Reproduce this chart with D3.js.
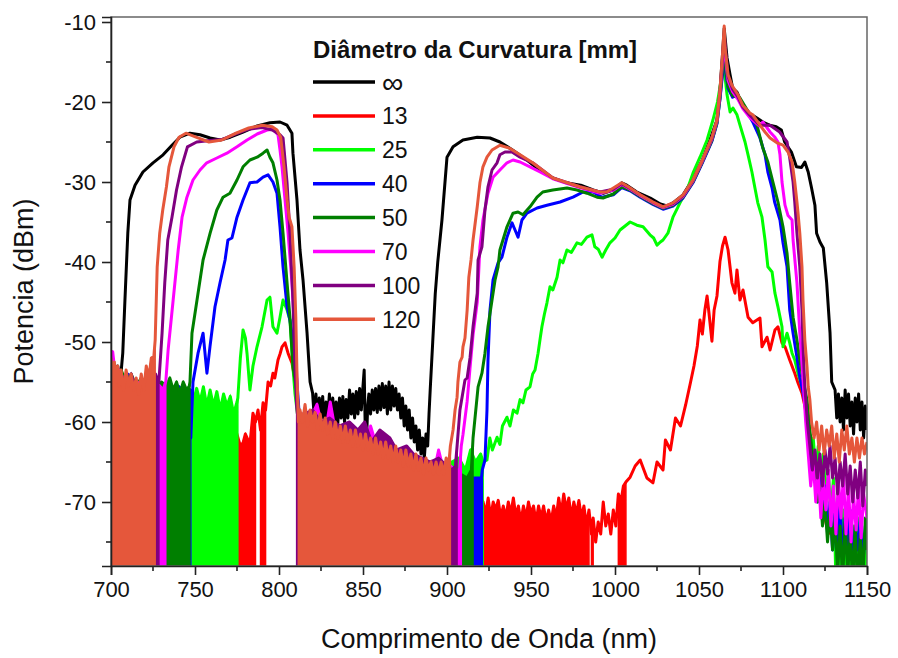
<!DOCTYPE html>
<html><head><meta charset="utf-8">
<script src="https://cdn.jsdelivr.net/npm/d3@7"></script>
<style>body{margin:0;background:#fff}</style>
</head><body>
<svg id="c" width="898" height="658"></svg>
<script>
// ---------- data ----------
const xTickValues = [700,750,800,850,900,950,1000,1050,1100,1150];
const yTickValues = [-10,-20,-30,-40,-50,-60,-70];
const xTitle = "Comprimento de Onda (nm)";
const yTitle = "Potencia (dBm)";
const legendTitle = "Diâmetro da Curvatura [mm]";
const seriesNames = ["∞","13","25","40","50","70","100","120"];
const seriesColors = ["#000000","#ff0000","#00ff00","#0000ff","#007f00","#ff00ff","#800080","#e5573b"];

// [wavelength nm, power dBm]
const sInf = [[700,-54],[702,-55.5],[704,-53],[705.5,-55],[707,-51.4],[708.3,-44.75],[710,-36.4],[711.3,-32.25],[714.3,-30.4],[719,-28.75],[725,-27.6],[731,-26.6],[736.3,-25.4],[741,-24.4],[747,-23.9],[753,-24.1],[759,-24.5],[765,-24.75],[771,-24.4],[778.6,-23.75],[787,-23],[794.6,-22.6],[800.6,-22.5],[804.8,-22.9],[807.7,-23.9],[808.3,-26.4],[810.7,-32.25],[812.5,-38.5],[814.3,-42.25],[816.7,-48.9],[818.5,-55],
[820,-56.4],[821,-59.5],[822,-56.5],[823,-60],[824,-57],[825,-59.5],[826,-56.8],[827,-60.5],[828,-57.5],[829,-59.5],[830,-56.5],[831,-60],[832,-57],[833,-59.8],[834,-57.5],[835,-60.2],[836,-57],[837,-59.5],[838,-56.8],[839,-60],[840,-57.2],[841,-59.5],[842,-56],[843,-59],[844,-56.5],[845,-59.5],[846,-56.2],[847,-59],[848,-55.8],[849,-58.5],[850,-55.5],[850.7,-53.5],[851.3,-60.5],[852,-63],[852.8,-58],[853.5,-56.5],[854.5,-59],[855.5,-56],[856.5,-58.5],[857.5,-55.8],[858.5,-58.8],[859.5,-55.5],[860.5,-58.5],[861.5,-55.2],[862.5,-58.2],[863.5,-55.5],[864.5,-59],[865.5,-55],[866.5,-58.5],[867.5,-55.5],[868.5,-58],[869.5,-55.8],[870.5,-58.5],[871.5,-56.5],[872.5,-59.5],[873.5,-57],[874.5,-60.5],[875.5,-58],[876.5,-61],[877.5,-58.5],[878.5,-62],[879.5,-59.5],[880.5,-62.5],[881.5,-60.5],[882.5,-63.5],[883.5,-61],[884.5,-64],[885.5,-62],[886.5,-64.5],[887.5,-61.5],[888.5,-63],[889.3,-59],
[890,-56],[891.5,-50],[893,-44],[894.5,-40],[897,-34.75],[900,-26.9],[903.6,-25.6],[909.5,-24.75],[918,-24.4],[925.6,-24.5],[931.5,-25],[939,-26],[947.6,-27.25],[955,-28.5],[963,-29.5],[971,-30.1],[979.6,-30.4],[987,-31],[993,-31.4],[999,-31],[1004,-30.1],[1007,-30.4],[1013,-31.25],[1021,-32],[1027,-32.75],[1031,-33],[1034.5,-32.6],[1040.5,-31.6],[1046,-29.75],[1052,-27.25],[1056.5,-24.75],[1060.7,-22.25],[1062.5,-18.5],[1064,-14],[1065,-10.8],[1066.7,-14.5],[1068.5,-16.6],[1070,-18.25],[1072.6,-18.75],[1076,-20.4],[1080,-21.4],[1084.5,-22],[1088,-22.5],[1092,-22.9],[1096,-23.1],[1099,-23.5],[1101,-25],[1105,-26.25],[1108,-28.1],[1111,-28.2],[1113,-27.5],[1115,-28.75],[1117,-30.75],[1119,-32.9],[1120,-36.4],[1122,-37.5],[1124,-38.25],[1126,-42.6],[1128,-48.9],[1129,-55],
[1131,-56],[1132,-59.5],[1133,-56.5],[1134,-60],[1135,-57],[1136,-61],[1137,-56],[1138,-59.5],[1139,-56.5],[1140,-60.5],[1141,-57.5],[1142,-61.5],[1143,-57],[1144,-60],[1145,-56.5],[1146,-61],[1147,-57.5],[1148,-62],[1149,-58],[1150,-61]];

const s13 = [[700,-54],[710,-55],[720,-56],[730,-56],[740,-57],[750,-57],[760,-58],[770,-58],[775.6,-62],[777,-63],[778.6,-62.6],[780,-61.5],[782.7,-62.8],[784.5,-58.9],[786,-60],[787.5,-58.5],[789,-61],[790.5,-57.6],[792,-58.5],[793.5,-55],[795,-55.5],[796.4,-53.9],[797.5,-54.5],[799.4,-52.25],[800.6,-51.5],[801.8,-50.6],[803.6,-50.1],[805.4,-51.4],[806.5,-52],[807.7,-52.6],[809.5,-54.75],[811.3,-58.9],[812,-63],
[812.5,-60],[820,-61],[830,-62],[840,-63],[850,-63.5],[860,-64.5],[870,-65],[880,-66],[890,-66.5],[900,-67],[910,-68],[918,-69],
[921.5,-70],[923,-71.5],[924.5,-69.5],[926,-72],[927.5,-70],[929,-71],[930.5,-69.8],[932,-72],[933.5,-70.5],[935,-72],[936.5,-70],[938,-71.5],[939.5,-69.5],[941,-71.8],[942.5,-70.5],[944,-72.5],[945.5,-70.5],[947,-72],[948.5,-70],[950,-71.5],[951.5,-70.5],[953,-72.5],[954.5,-70.5],[956,-72],[957.5,-70.5],[959,-72.5],[960.5,-71],[962,-72.5],[963.5,-70.5],[965,-72],[966.5,-69.5],[968,-71.5],[969.5,-69],[971,-71],[972.5,-69.5],[974,-72],[975.5,-70],[977,-71.5],[978.5,-69.8],[980,-72],[981.5,-70.5],[983,-73],[984.5,-71],[986,-74],[987,-72],[988.5,-75],[990,-72.5],[991.5,-74],[993,-70],[994.5,-73],[996,-71.5],[997.5,-74],[999,-71],[1000.5,-73],[1002,-69],[1003.5,-70],[1005,-68],[1006.5,-67.5],
[1009,-66.9],[1012,-65.5],[1015,-64.75],[1019,-67],[1022.6,-67.6],[1025,-65],[1028.6,-66],[1030,-62.25],[1033,-63.5],[1036,-59.5],[1039,-60.5],[1042,-57.9],[1045,-55],[1047,-53],[1049,-50.5],[1050.6,-47.25],[1052,-49],[1053.5,-46],[1054.8,-44.25],[1056,-46.5],[1057.7,-49.9],[1059,-46],[1060.7,-44.25],[1062.5,-39.9],[1064,-38],[1065.5,-36.9],[1067.3,-38.5],[1069.6,-42.6],[1071.4,-43.9],[1072.6,-41],[1074.4,-44.75],[1076.2,-43.5],[1079.2,-46.9],[1082,-47.6],[1086.3,-47],[1087.5,-50.6],[1090.5,-49.4],[1092.3,-51],[1095.2,-48.5],[1097,-48.1],[1099.4,-50.1],[1101.2,-50.6],[1104,-52.25],[1107,-53.9],[1108.9,-55.1],[1111.3,-56.4],[1113,-58],[1115,-60.5],[1117,-63],[1119,-65.5],[1121,-68],[1123,-70],[1125,-72],[1127,-74],[1129,-73],[1131,-76],[1133,-75],[1135,-77],[1137,-76],[1139,-80],[1140.5,-76],[1142,-81],[1143.5,-77],[1145,-80],[1146.5,-77],[1148,-81],[1149,-78],[1150,-80]];

const s25 = [[700,-54],[705,-55.5],[710,-55],[715,-56],[720,-55.5],[725,-56.5],[730,-56],[735,-57],[740,-56],[745,-57],[747,-56],[749,-57.5],[751,-55.8],[753,-57.5],[755,-55.6],[757,-58],[759,-56],[761,-58],[763,-56.2],[765,-58.5],[767,-56.5],[769,-58],[771,-56.8],[773,-59],[775,-57.5],
[775.5,-57],[777,-52],[778.6,-48.5],[780,-49.5],[781,-51.5],[782.7,-56],[784.5,-53],[786.9,-50.6],[789.9,-48.1],[792.9,-44.75],[794.6,-44.4],[796.4,-48.1],[798.8,-48.9],[800.6,-46.9],[802.4,-44.75],[804.8,-46],[806.5,-47.25],[808.3,-53.1],[809.5,-56.4],[811,-59],
[813,-59.5],[820,-60],[827,-61],[834,-61.5],[841,-62],[848,-62.5],[855,-63],[862,-63.5],[869,-64],[876,-65],[883,-65],[890,-65.5],[897,-65.5],[903,-65],[907,-64.5],[911,-66],[914,-63.5],[917,-65],[920,-64],
[921.5,-65],[923.8,-64.75],[925.5,-62],[927,-63.5],[929.8,-61.9],[931.5,-62.8],[933,-60.5],[935.7,-59.4],[937.5,-60.5],[939.5,-58.5],[941.7,-58.9],[943.5,-57.2],[945.2,-57.6],[947,-56],[949.4,-55.6],[951,-54],[952.4,-53.5],[954.2,-51.4],[955.5,-49.5],[956.5,-48.1],[958,-46.5],[959.5,-45.1],[961.3,-43.1],[963,-43.5],[965.5,-41.9],[967.3,-39.75],[969,-40.1],[971.4,-38.5],[974,-38.8],[977.4,-37.6],[980,-37.8],[983.3,-36.9],[986.3,-36.6],[988,-38.1],[990,-38.4],[992.3,-39.4],[994.5,-38.5],[997,-37.6],[1000,-37],[1003,-36],[1006,-35.5],[1009,-35],[1013,-35.4],[1016.7,-35.6],[1020.8,-36.6],[1023,-37],[1025,-37.9],[1027,-37.5],[1028.6,-37.25],[1031.5,-36.4],[1034.5,-34.4],[1038.7,-32.6],[1042.9,-31],[1046.4,-28.9],[1050.6,-26.9],[1054.8,-24.75],[1058.3,-22.25],[1061,-20],[1063,-17.5],[1064.3,-15.4],[1065.3,-16.5],[1066.7,-19.1],[1068.5,-21.25],[1070.2,-20.75],[1072.6,-21.6],[1074.4,-22.9],[1077.4,-25],[1079.2,-26.6],[1081.5,-28.75],[1083.3,-30.75],[1085,-32.6],[1087.5,-34.4],[1089.3,-37.25],[1091,-40.6],[1093.5,-41.25],[1095.2,-43.9],[1097,-45.6],[1099.4,-48.1],[1100,-50.6],[1102.4,-48.9],[1104,-50.1],[1105.4,-51.4],[1107,-52.25],[1108.9,-53.9],[1111.3,-55.6],[1113,-57.25],[1115,-61],[1116.5,-64],[1118,-62],[1119.5,-66],[1121,-63],[1122.5,-68],[1124,-64],[1125.5,-70],[1127,-66],[1128.5,-72],[1130,-67],[1131.5,-80],[1133,-70],[1134.5,-79],[1136,-71],[1137.5,-80],[1139,-72],[1140.5,-80],[1142,-73],[1143.5,-79],[1145,-72],[1146.5,-80],[1148,-74],[1149,-80],[1150,-75]];

const s40 = [[700,-53.5],[705,-55],[710,-54],[715,-56],[720,-55],[725,-56],[730,-55.5],[735,-56],[740,-55.5],[745,-56.5],[747,-56],
[747.5,-62],[748.8,-55],[751.8,-51.4],[754.8,-48.9],[757.1,-53.9],[758.9,-50.6],[761.9,-45.6],[764.9,-42.6],[767.9,-39.75],[769.6,-37.25],[772,-37],[775,-34.4],[778.6,-32.25],[782.7,-30.1],[786.9,-30],[790.5,-29.4],[793.5,-29.1],[796.4,-30],[798.8,-31.4],[800.6,-35.6],[802.4,-40.6],[804.8,-45.6],[806.5,-47.25],[808.3,-49.75],[810.7,-55],[812,-59],
[813,-59.5],[820,-60.5],[828,-61],[835,-61.5],[842,-62],[850,-62.5],[857,-63.5],[864,-64],[871,-64.5],[878,-65],[885,-65.5],[890,-66],[896,-66.5],[903,-66],[910,-67],[916,-67],[920.5,-67],
[921,-66],[922.6,-64.75],[923.8,-58.5],[924.4,-52.25],[925.6,-46],[927.4,-42.25],[930.4,-40.1],[932.7,-39.4],[935.7,-36.9],[938.7,-35.1],[940.5,-36],[942.3,-36.9],[944.6,-34.75],[947.6,-33.9],[953.6,-33.25],[959.5,-32.9],[967.3,-32.5],[975,-31.9],[981,-31.25],[987,-31.25],[992.3,-31.9],[999,-31.6],[1004,-30.7],[1009,-31.1],[1015,-31.9],[1022.6,-32.8],[1028.6,-33.4],[1034.5,-33],[1040.5,-32],[1046.4,-30.1],[1052,-27.6],[1057.7,-24.9],[1060.7,-22.7],[1062.5,-19.6],[1064,-16.5],[1065,-13.5],[1066,-16.5],[1067.3,-18.3],[1070,-19.4],[1072.6,-19.1],[1078.6,-21.25],[1082,-22.5],[1086.3,-24.5],[1089.3,-26.6],[1091,-28.75],[1093.5,-30.75],[1095,-32.5],[1098.2,-34.75],[1100,-37.6],[1102.4,-40.6],[1103,-42.6],[1104,-46],[1106,-48.9],[1108.3,-51.9],[1110,-54.4],[1112,-56.4],[1114,-59],[1116,-63],[1117.5,-67],[1119,-65],[1120.5,-70],[1122,-67],[1123.5,-72],[1125,-68],[1126.5,-74],[1128,-70],[1129.5,-76],[1131,-71],[1132.5,-75],[1134,-70],[1135.5,-77],[1137,-72],[1138.5,-76],[1140,-71],[1141.5,-77],[1143,-73],[1144.5,-76],[1146,-72],[1147.5,-78],[1149,-73],[1150,-75]];

const s50 = [[700,-53],[703,-54.5],[706,-53.5],[709,-55],[712,-54],[715,-55.5],[718,-54.5],[721,-56],[724,-55],[727,-56],[730,-55],[733,-55.5],[735,-54.5],[737,-56],[739,-55],[741,-56.5],[743,-55],[745,-56],[746.6,-55.5],
[747,-55],[748.2,-48.9],[751.2,-44.75],[754.8,-39.75],[759,-36.4],[763,-33.5],[766.7,-31.9],[770.8,-31.4],[775,-29.75],[778.6,-28.1],[782.7,-27.25],[787,-26.9],[790.5,-26.4],[792.9,-26],[794.6,-26.9],[796.4,-27.6],[798.8,-29.75],[800.6,-32.25],[802.4,-36.4],[804.8,-42.6],[806.5,-46.9],[808.3,-53],[810.7,-56.4],[812,-59],
[813,-59.5],[818,-60],[823,-60.5],[828,-61],[833,-61],[838,-62],[843,-62],[848,-63],[853,-63],[858,-63.5],[863,-64],[868,-64.5],[873,-65],[878,-65.5],[883,-65.5],[888,-66],[893,-66],[898,-66.5],[903,-66],[908,-66.5],[912,-67],[914.5,-66],
[915.5,-62],[918.5,-55.6],[920.8,-53.9],[922.6,-51.4],[924.4,-48.1],[926.8,-44.75],[928.6,-42.25],[930.4,-40.6],[931.5,-38.5],[935.7,-35.6],[939.3,-33.9],[942.3,-33.75],[945.2,-34.1],[949.4,-33.1],[953.6,-31.9],[957,-31.25],[963,-31],[971.4,-30.75],[977.4,-31],[983.3,-31.4],[989.3,-31.9],[992.9,-32],[999,-31.5],[1004,-30.6],[1009,-31],[1015,-31.8],[1022.6,-32.7],[1028.6,-33.3],[1034.5,-32.9],[1040.5,-31.9],[1046.4,-30],[1052,-27.5],[1057.7,-24.8],[1060.7,-22.6],[1062.5,-19.5],[1064,-16],[1065,-13],[1066,-16],[1067.3,-18],[1070,-19.2],[1074.4,-19.5],[1080.4,-21.6],[1084.5,-22.9],[1088,-25.75],[1091,-27.5],[1094,-30],[1097,-32.5],[1100,-35.6],[1102.4,-38.9],[1104,-42.6],[1106,-46.9],[1108.3,-49.75],[1110,-52.25],[1112,-54.75],[1114.3,-57.25],[1116,-61],[1117.5,-64],[1119,-67],[1120.5,-70],[1122,-68],[1123.5,-73],[1125,-70],[1126.5,-75],[1128,-71],[1129.5,-76],[1131,-72],[1132.5,-79],[1134,-73],[1135.5,-80],[1137,-72],[1138.5,-79],[1140,-74],[1141.5,-80],[1143,-73],[1144.5,-81],[1146,-74],[1147.5,-80],[1149,-72],[1150,-76]];

const s70 = [[700,-52],[701,-51.2],[702.5,-54],[705,-53.5],[708,-55],[711,-54.5],[714,-56],[717,-55],[720,-56.5],[723,-55.5],[726,-55],[729,-55.5],[731,-56],[732.5,-55],
[732.6,-55],[734,-51],[737,-44.75],[740,-38.5],[742.3,-34.4],[745.2,-31.9],[748.8,-29.75],[753,-28.5],[757,-27.6],[763,-27],[769,-26.4],[775,-25.6],[781,-24.75],[787,-24],[792.9,-23.5],[796.4,-23.4],[799.4,-24.1],[800.6,-26],[801.8,-28.1],[803.6,-32.25],[805.4,-36.4],[807.7,-42.6],[809.5,-48.9],[810.7,-55],[811.5,-59],
[812,-59],[816,-59.5],[820,-59],[822.6,-57.8],[825,-60],[829,-59.5],[830.5,-57.5],[833,-60.5],[838,-60.5],[843,-61.5],[848,-62],[853,-62.5],[854.5,-60.5],[858,-63],[863,-63.5],[868,-64],[873,-64.5],[878,-65],[883,-65],[888,-65.5],[893,-65.5],[895,-63.5],[898,-66],[902,-65.5],[905,-66],[907.5,-66],
[908.5,-63],[909.5,-61.6],[912,-57.4],[913.7,-53.25],[915.5,-49.1],[918,-45],[919.6,-38.1],[921.4,-34.75],[924.4,-31.4],[927.4,-29.4],[931.5,-28.5],[935.7,-27.6],[939.3,-27.25],[943.5,-27.5],[949.4,-28.1],[955.4,-28.75],[963,-29.6],[979,-30.7],[991,-31.4],[999,-31],[1004,-30.3],[1009,-30.9],[1015,-31.7],[1022.6,-32.6],[1028.6,-33.2],[1034.5,-32.8],[1040.5,-31.8],[1046.4,-29.9],[1052,-27.4],[1057.7,-24.6],[1060.7,-22.4],[1062.5,-19],[1064,-15],[1065,-12.5],[1066,-15],[1067.3,-17.3],[1070,-18.7],[1073,-19.6],[1076,-20.8],[1080,-21.9],[1086,-23],[1088,-22.5],[1092.3,-23.75],[1095.2,-24.4],[1097,-25],[1098.2,-26.6],[1099.4,-30],[1101.2,-32.9],[1103,-34.2],[1105.4,-34.75],[1106,-37.25],[1108.3,-42.6],[1110,-48.9],[1112,-55],[1113.5,-60],
[1115,-64],[1116.5,-68],[1118,-65],[1119.5,-70],[1121,-66],[1122.5,-72],[1124,-67],[1125.5,-71],[1127,-66],[1128.5,-73],[1130,-68],[1131.5,-74],[1133,-67],[1134.5,-72],[1136,-66.5],[1137.5,-74],[1139,-68],[1140.5,-75],[1142,-69],[1143.5,-73.5],[1145,-68],[1146.5,-74.5],[1148,-69],[1150,-72]];

const s100 = [[700,-53],[703,-55],[706,-54],[709,-56],[712,-54],[715,-56],[718,-55],[721,-56],[724,-54],[726.5,-54],[728,-55],
[728.5,-55],[730.4,-48.9],[732,-42.6],[733.8,-37.25],[736.3,-34.4],[739,-31],[742,-28.1],[745.5,-25.6],[751,-25],[758.9,-24.8],[766,-24.7],[774,-24],[782,-23.4],[790,-23.2],[796,-23.5],[800.6,-24.1],[802.4,-24.5],[804.8,-30.1],[806.5,-36.4],[808.3,-44.75],[809.5,-53],[810.5,-58],
[811,-59],[815,-59],[820,-58.5],[825,-60],[830,-59.5],[836,-60.5],[842,-60],[847,-61],[851,-60],[855,-62.5],[860,-61],[866,-62],[870,-63.5],[876,-63],[880,-64],[885,-64.5],[890,-65],[895,-64.5],[900,-65.5],[903,-66],[905,-65.5],
[906,-63],[907.7,-58.5],[910.7,-54.75],[912,-54.5],[913.7,-52],[915.5,-48.1],[918,-43.9],[918.5,-39.75],[920.8,-38.1],[922.6,-33.5],[924.4,-30.6],[926.8,-28.5],[929.8,-27.6],[931.5,-26.6],[934.5,-26.25],[938.7,-26.25],[943.5,-26.9],[951,-27.6],[963,-29.5],[979,-30.6],[991,-31.25],[999,-30.9],[1004,-30.2],[1009,-30.8],[1015,-31.6],[1022.6,-32.5],[1028.6,-33.1],[1034.5,-32.7],[1040.5,-31.7],[1046.4,-29.8],[1052,-27.3],[1057.7,-24.5],[1060.7,-22.3],[1062.5,-18.7],[1064,-14.5],[1065,-11.5],[1066,-14],[1067.3,-16.8],[1070,-18.4],[1073,-19.3],[1076,-20.6],[1080,-21.6],[1086,-22.9],[1092.3,-22.9],[1098,-23.75],[1102.4,-25],[1104,-27],[1106,-30],[1107,-32.5],[1108.3,-36.4],[1110,-40.6],[1111.3,-46],[1112,-51],[1113,-55.6],[1114.5,-60],
[1116,-63],[1117.5,-66],[1119,-63.5],[1120.5,-67],[1122,-64],[1123.5,-68],[1125,-63.5],[1126.5,-66.5],[1128,-63],[1129.5,-67],[1131,-64.5],[1132.5,-69],[1134,-65],[1135.5,-68],[1137,-64],[1138.5,-69],[1140,-65.5],[1141.5,-70],[1143,-66],[1144.5,-69.5],[1146,-65],[1147.5,-70.5],[1149,-66],[1150,-68]];

const s120 = [[700,-52],[701,-54.5],[702,-52.5],[703,-55],[704,-53],[705,-55.5],[706,-53.5],[707.5,-56],[709,-53.5],[710.5,-55.5],[712,-54],[713.5,-56],[715,-54.5],[716.5,-56.5],[718,-54],[719.5,-56],[721,-53],[722.5,-54.5],[724,-52],[725.5,-51.8],
[726.3,-49.75],[727.5,-40.6],[729,-36.4],[730.8,-33.5],[733,-30.6],[734.5,-28.1],[737.5,-25.6],[740.5,-24.4],[744.6,-23.9],[750.6,-24.4],[758.3,-25],[766,-24.75],[774.4,-23.9],[782,-23.25],[790,-22.9],[796,-23.1],[798.8,-23.5],[801,-24.4],[803,-28.1],[804.8,-32.25],[806,-34.4],[807.7,-35.6],[809,-40.6],[810,-46.9],[810.8,-55],[811.5,-60],
[812.5,-58.5],[814,-60],[815.5,-57.8],[817,-60.5],[818.5,-58.5],[820,-60],[821.5,-58.8],[823,-61],[824.5,-59],[826,-61],[827.5,-59.5],[829,-61.5],[830.5,-60],[832,-62],[833.5,-60],[835,-62],[836.5,-60.5],[838,-62.5],[839.5,-60.5],[841,-62.5],[842.5,-61],[844,-63],[845.5,-61],[847,-63],[848.5,-61.5],[850,-63.5],[851.5,-61.5],[853,-63.5],[854.5,-62],[856,-64],[857.5,-62],[859,-64],[860.5,-62.5],[862,-64.5],[863.5,-62.5],[865,-64.5],[866.5,-63],[868,-65],[869.5,-63],[871,-65],[872.5,-63.5],[874,-65.5],[875.5,-63.5],[877,-65.5],[878.5,-64],[880,-66],[881.5,-64],[883,-66],[884.5,-64.5],[886,-66.5],[887.5,-64.5],[889,-66],[890.5,-65],[892,-66.5],[893.5,-65],[895,-66.5],[896.5,-65],[898,-66.5],[899.5,-64.5],[901,-65.5],
[902,-63],[903.6,-61],[904.8,-58.5],[906,-56.9],[906.5,-55],[907.7,-52.5],[909,-51.9],[909.5,-50.6],[910.7,-49.5],[912,-46],[913,-41.9],[914.3,-39.75],[915.5,-37.25],[918,-33.1],[919.6,-30.1],[921.4,-28.1],[923.8,-26.9],[926.8,-26],[931.5,-25.4],[937.5,-25.8],[943.5,-26.6],[951,-27.6],[963,-29.5],[979,-30.6],[991,-31.25],[995,-31.25],[999,-30.75],[1004,-30.1],[1009,-30.75],[1015,-31.6],[1022.6,-32.5],[1028.6,-33.1],[1034.5,-32.6],[1040.5,-31.6],[1046.4,-29.75],[1052,-27.25],[1057.7,-24.4],[1060.7,-22.25],[1062.5,-18.5],[1064,-14],[1065,-10.5],[1065.5,-13.25],[1067.3,-16.6],[1069.6,-17.9],[1071.4,-18.5],[1073.2,-19.1],[1076,-20.4],[1080.4,-21.4],[1082,-21.6],[1086.3,-22.9],[1089.3,-23.75],[1092.3,-24.5],[1096.4,-25.1],[1100,-25.4],[1103,-26.25],[1105.4,-27.5],[1107,-30],[1108.3,-32.5],[1109,-34],[1110,-36.4],[1111.3,-40.6],[1111.9,-44.75],[1113,-49.75],[1114.3,-53.1],[1115,-55.6],[1116,-57.25],[1117,-60],
[1118.5,-62],[1120,-60],[1121.5,-63.5],[1123,-60.5],[1124.5,-64],[1126,-61],[1127.5,-63],[1129,-60.5],[1130.5,-64.5],[1132,-61.5],[1133.5,-65],[1135,-61],[1136.5,-63.5],[1138,-60.5],[1139.5,-64],[1141,-62],[1142.5,-65],[1144,-62],[1145.5,-64.5],[1147,-62],[1148.5,-64],[1150,-62.5]];

// wavelength spans where the noise floor drops below the axis
const floorInf = [];
const floor13 = [[775.3,787.2],[788.7,792.7],[810,984.5],[986,987.5],[989.5,990.5],[995.5,996.5],[1001,1006.5]];
const floor25 = [[700,775.5],[811,921.5]];
const floor40 = [[700,747.5],[812,921]];
const floor50 = [[700,747],[812,915.5]];
const floor70 = [[700,732.6],[811.5,908.5]];
const floor100 = [[700,728.5],[810.5,906]];
const floor120 = [[700,726.3],[811.5,902]];

const seriesData = [sInf,s13,s25,s40,s50,s70,s100,s120];
const seriesFloors = [floorInf,floor13,floor25,floor40,floor50,floor70,floor100,floor120];

// ---------- chart ----------
const L = 111, R = 867, T = 17, B = 566;
const svg = d3.select("#c");
const x = d3.scaleLinear().domain([700,1150]).range([L,R]);
const y = d3.scaleLinear().domain([-78,-9.375]).range([B,T]);
const font = "'Liberation Sans', Arial, sans-serif";

svg.append("defs").append("clipPath").attr("id","clip")
  .append("rect").attr("x",L).attr("y",T).attr("width",R-L).attr("height",B-T);

const g = svg.append("g").attr("clip-path","url(#clip)");
const line = d3.line().x(d=>x(d[0])).y(d=>y(d[1]));
const area = d3.area().x(d=>x(d[0])).y0(B+20).y1(d=>y(d[1]));

seriesData.forEach((data,i)=>{
  const col = seriesColors[i];
  seriesFloors[i].forEach(([a,b])=>{
    const pts = data.filter(d=>d[0]>=a && d[0]<=b);
    if(pts.length<2) return;
    g.append("path").attr("d",area(pts)).attr("fill",col).attr("stroke",col).attr("stroke-width",1.5);
  });
  g.append("path").attr("d",line(data)).attr("fill","none").attr("stroke",col)
    .attr("stroke-width",3).attr("stroke-linejoin","round");
});

// frame
svg.append("rect").attr("x",L).attr("y",T).attr("width",R-L).attr("height",B-T)
  .attr("fill","none").attr("stroke","#666").attr("stroke-width",1.5);

// axes
const xAxis = d3.axisBottom(x).tickValues(xTickValues).tickSize(9).tickPadding(6).tickFormat(d3.format("d"));
const gx = svg.append("g").attr("transform",`translate(0,${B})`).call(xAxis);
const yAxis = d3.axisLeft(y).tickValues(yTickValues).tickSize(9).tickPadding(6).tickFormat(d=>d);
const gy = svg.append("g").attr("transform",`translate(${L},0)`).call(yAxis);
[gx,gy].forEach(a=>{
  a.select(".domain").attr("stroke","#222").attr("stroke-width",1.6);
  a.selectAll(".tick line").attr("stroke","#222").attr("stroke-width",1.6);
  a.selectAll(".tick text").attr("font-family",font).attr("font-size",22).attr("fill","#111");
});
// minor ticks
const xMinor = d3.range(725,1150,50);
svg.append("g").selectAll("line").data(xMinor).join("line")
  .attr("x1",d=>x(d)).attr("x2",d=>x(d)).attr("y1",B).attr("y2",B+5).attr("stroke","#222").attr("stroke-width",1.6);
const yMinor = [-15,-25,-35,-45,-55,-65,-75];
svg.append("g").selectAll("line").data(yMinor).join("line")
  .attr("x1",L-5).attr("x2",L).attr("y1",d=>y(d)).attr("y2",d=>y(d)).attr("stroke","#222").attr("stroke-width",1.6);

// titles
svg.append("text").attr("x",(L+R)/2).attr("y",648).attr("text-anchor","middle")
  .attr("font-family",font).attr("font-size",27).attr("fill","#111").text(xTitle);
svg.append("text").attr("transform",`translate(33,${(T+B)/2}) rotate(-90)`).attr("text-anchor","middle")
  .attr("font-family",font).attr("font-size",27).attr("fill","#111").text(yTitle);

// legend
const lg = svg.append("g");
lg.append("text").attr("x",313).attr("y",58).attr("font-family",font).attr("font-weight","bold")
  .attr("font-size",24).attr("fill","#111").text(legendTitle);
seriesNames.forEach((n,i)=>{
  const yy = 82 + i*33.9;
  lg.append("line").attr("x1",313).attr("x2",375).attr("y1",yy).attr("y2",yy)
    .attr("stroke",seriesColors[i]).attr("stroke-width",3.5);
  lg.append("text").attr("x",382).attr("y",yy).attr("dy","0.36em").attr("font-family",font)
    .attr("font-size", i===0?30:23).attr("fill","#111").text(n);
});
</script>
</body></html>
